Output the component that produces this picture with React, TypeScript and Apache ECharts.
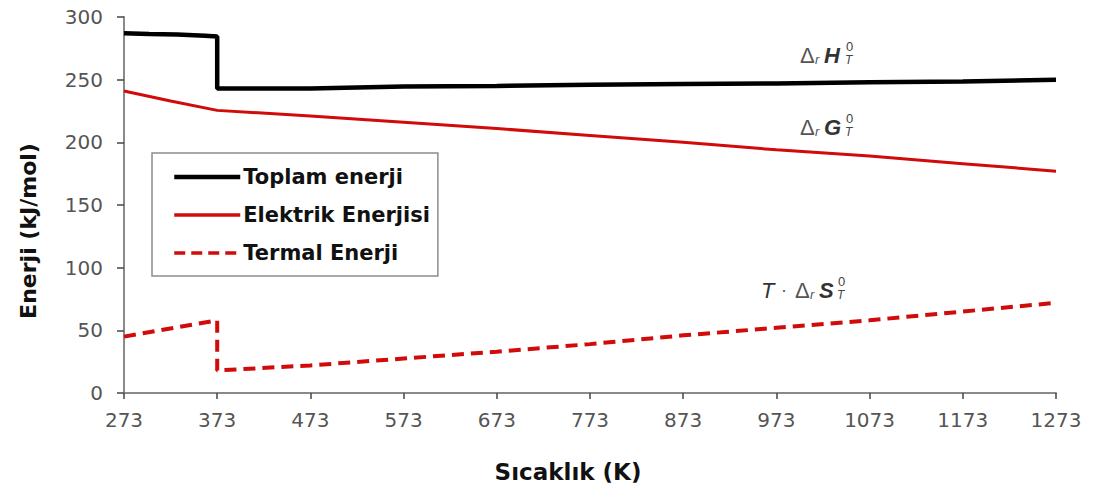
import React, { useEffect, useRef } from "react";
import * as echarts from "echarts";

const xTicks = [273, 373, 473, 573, 673, 773, 873, 973, 1073, 1173, 1273];

const toplamT = [273, 300, 330, 360, 373, 373, 400, 473, 573, 673, 773, 873, 973, 1073, 1173, 1273];
const toplamV = [287, 286.5, 286, 285, 284.5, 243, 243, 243, 244.5, 245, 246, 246.5, 247, 248, 248.5, 250];

const elektrikT = [273, 323, 373, 473, 573, 673, 773, 873, 973, 1073, 1173, 1273];
const elektrikV = [241, 233, 225.5, 221, 216, 211, 205.5, 200, 194, 189, 183, 177];

const termalT = [273, 373, 373, 473, 573, 673, 773, 873, 973, 1073, 1173, 1273];
const termalV = [45, 58, 18, 22, 27.5, 33, 39, 46, 52, 58, 65, 72];

const seriesNames = ["Toplam enerji", "Elektrik Enerjisi", "Termal Enerji"];
const xName = "Sıcaklık (K)";
const yName = "Enerji (kJ/mol)";

const zip = (a: number[], b: number[]) => a.map((t, i) => [t, b[i]]);

export default function App() {
  const ref = useRef<HTMLDivElement>(null);
  useEffect(() => {
    if (!ref.current) return;
    const chart = echarts.init(ref.current, null, { renderer: "svg" });
    const red = "#d10a0a";
    const grey = "#555";
    const font = "'Liberation Sans', Arial, sans-serif";
    const bold = "'DejaVu Sans', sans-serif";
    const symText = (x: number, y: number, main: string) => ({
      type: "group",
      children: [
        { type: "text", x, y, style: { text: "Δ", font: "22px " + font, fill: grey, textVerticalAlign: "middle" } },
        { type: "text", x: x + 15, y: y + 4, style: { text: "r", font: "italic 13px " + font, fill: grey, textVerticalAlign: "middle" } },
        { type: "text", x: x + 24, y, style: { text: main, font: "italic bold 22px " + font, fill: "#333", textVerticalAlign: "middle" } },
        { type: "text", x: x + 46 + (main === "S" ? -3 : 0), y: y - 9, style: { text: "0", font: "13px " + font, fill: "#444", textVerticalAlign: "middle" } },
        { type: "text", x: x + 45 + (main === "S" ? -3 : 0), y: y + 5, style: { text: "T", font: "italic 12px " + font, fill: "#444", textVerticalAlign: "middle" } },
      ],
    });
    chart.setOption({
      animation: false,
      grid: { left: 124, right: 40, top: 17, bottom: 104 },
      legend: {
        orient: "vertical",
        left: 152,
        top: 153,
        data: [
          { name: seriesNames[0], lineStyle: { width: 4.5 } },
          { name: seriesNames[1], lineStyle: { width: 3.5 } },
          { name: seriesNames[2], lineStyle: { width: 3.5, type: [11, 6] } },
        ],
        itemWidth: 66,
        itemHeight: 14,
        itemGap: 14,
        padding: [12, 8, 11, 20],
        borderColor: "#8c8c8c",
        borderWidth: 1.5,
        backgroundColor: "#fff",
        itemStyle: { opacity: 0 },
        textStyle: { fontSize: 21, lineHeight: 24, fontWeight: "bold", fontFamily: bold, color: "#111", padding: [0, 0, 0, -2] },
      },
      xAxis: {
        type: "value",
        min: 273,
        max: 1273,
        interval: 100,
        axisLine: { lineStyle: { color: "#8a8a8a", width: 2 } },
        axisTick: { show: true, length: 6, lineStyle: { color: "#444", width: 1.5 } },
        axisLabel: { fontSize: 20, color: grey, fontFamily: "'DejaVu Sans', sans-serif", margin: 17, formatter: (v: number) => (xTicks.includes(v) ? String(v) : "") },
        splitLine: { show: false },
      },
      yAxis: {
        type: "value",
        min: 0,
        max: 300,
        interval: 50,
        axisLine: { show: true, lineStyle: { color: "#8a8a8a", width: 2 } },
        axisTick: { show: true, length: 7, lineStyle: { color: "#444", width: 1.5 } },
        axisLabel: { fontSize: 20, color: grey, fontFamily: "'DejaVu Sans', sans-serif", margin: 21 },
        splitLine: { show: false },
      },
      series: [
        { name: seriesNames[0], type: "line", data: zip(toplamT, toplamV), symbol: "none", lineStyle: { color: "#000", width: 4.5 }, itemStyle: { color: "#000" } },
        { name: seriesNames[1], type: "line", data: zip(elektrikT, elektrikV), symbol: "none", lineStyle: { color: red, width: 3 }, itemStyle: { color: red } },
        { name: seriesNames[2], type: "line", data: zip(termalT, termalV), symbol: "none", lineStyle: { color: red, width: 4, type: [12, 7] }, itemStyle: { color: red } },
      ],
      graphic: [
        { type: "text", x: 568, y: 472, style: { text: xName, font: "bold 23px " + bold, fill: "#111", textAlign: "center", textVerticalAlign: "middle" } },
        { type: "text", x: 28, y: 231, rotation: Math.PI / 2, style: { text: yName, font: "bold 22px " + bold, fill: "#111", textAlign: "center", textVerticalAlign: "middle" } },
        symText(800, 55, "H"),
        symText(800, 127, "G"),
        {
          type: "group",
          children: [
            { type: "text", x: 761, y: 290, style: { text: "T", font: "italic 22px " + font, fill: "#333", textVerticalAlign: "middle" } },
            { type: "text", x: 781, y: 290, style: { text: "·", font: "18px " + font, fill: grey, textVerticalAlign: "middle" } },
          ],
        },
        symText(795, 290, "S"),
      ],
    });
    return () => chart.dispose();
  }, []);
  return <div ref={ref} style={{ position: "fixed", left: 0, top: 0, width: 1096, height: 497, background: "#fff" }} />;
}
